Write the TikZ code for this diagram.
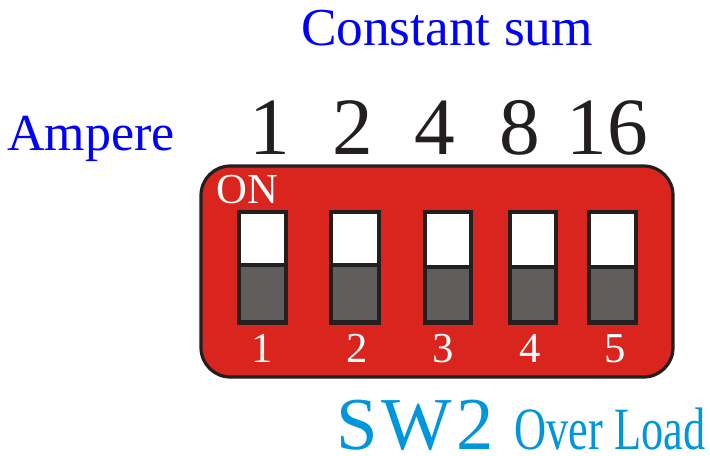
\documentclass[tikz,border=0pt]{standalone}
\usepackage{fontspec}
\setmainfont{LiberationSerif}[Extension=.ttf,UprightFont=*-Regular,BoldFont=*-Bold]
\usepackage{graphicx}
\definecolor{boxred}{RGB}{217,37,30}
\definecolor{ink}{RGB}{35,31,32}
\definecolor{knob}{RGB}{95,94,92}
\definecolor{labelblue}{RGB}{0,0,255}
\definecolor{swblue}{RGB}{0,150,219}
\tikzset{
  bluelabel/.style={text=labelblue,font=\fontsize{39}{39}\selectfont,inner sep=0pt},
  weight/.style={text=ink,font=\fontsize{61}{61}\selectfont,inner sep=0pt,anchor=base},
  swnum/.style={text=white,font=\fontsize{32}{32}\selectfont,inner sep=0pt,anchor=base},
  frame/.style={fill=ink,draw=none},
}
\begin{document}
\begin{tikzpicture}[x=0.75pt,y=-0.75pt]
\useasboundingbox (0,0) rectangle (710,455);
% body
\draw[fill=boxred,draw=ink,line width=2.4pt,rounded corners=22] (201,166) rectangle (673,377);
% switches
\foreach \i/\xa/\xb/\yd in {1/237/288/265,2/329/381/265,3/423/473/267,4/508/558/267,5/587/638/267}{
  \fill[frame] (\xa,210) rectangle (\xb,325);
  \fill[white] (\xa+4,214) rectangle (\xb-4,\yd-2);
  \fill[knob] (\xa+4,\yd+2) rectangle (\xb-4,320);
}
\node[swnum,anchor=base west] (on) at (216,203) {ON};
\node[swnum] (n1) at (262,362) {1};
\node[swnum] (n2) at (357,362) {2};
\node[swnum] (n3) at (443,362) {3};
\node[swnum] (n4) at (530,362) {4};
\node[swnum] (n5) at (615,362) {5};
% top labels
\node[bluelabel,font=\fontsize{40}{40}\selectfont,anchor=base] (cs) at (447,45) {Constant sum};
\node[bluelabel,anchor=base west] (amp) at (7,150) {Ampere};
\node[weight] (w1) at (270,154) {1};
\node[weight] (w2) at (353,154) {2};
\node[weight] (w4) at (435,154) {4};
\node[weight] (w8) at (520,154) {8};
\node[weight] (w16) at (607,154) {16};
% bottom labels
\node[text=swblue,font=\fontsize{56}{56}\selectfont,inner sep=0pt,text depth=0pt,anchor=base west] (sw) at (336,449) {S\kern3pt W\kern3pt 2};
\node[text=swblue,font=\fontsize{45}{45}\selectfont,inner sep=0pt,text depth=0pt,anchor=base west] (ol) at (514,449) {\scalebox{0.74}[1]{Over Load}};
\end{tikzpicture}
\end{document}
